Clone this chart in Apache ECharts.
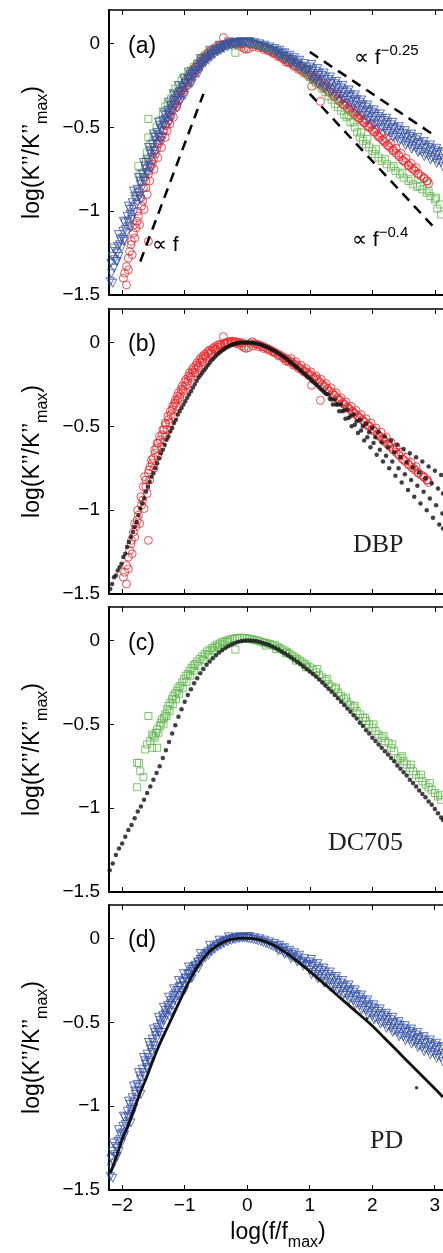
<!DOCTYPE html>
<html>
<head>
<meta charset="utf-8">
<script src="https://cdn.jsdelivr.net/npm/echarts@6/dist/echarts.min.js"></script>
<style>
  html, body { margin: 0; padding: 0; background: #fff; }
  #chart { width: 443px; height: 1253px; }
</style>
</head>
<body>
<div id="chart"></div>
<script>
// ---- axis ticks -------------------------------------------------------
const xTickValues = [-2, -1, 0, 1, 2, 3];
const yTickValues = [-1.5, -1, -0.5, 0];
const panelLetters = ['(a)', '(b)', '(c)', '(d)'];
const liquidNames = ['DBP', 'DC705', 'PD'];

// ---- DBP loss spectra (red circles), log(f/fmax), log(K''/K''max) ----
const dbpPoints = [
  [-1.93,-1.44],[-1.96,-1.37],[-1.93,-1.33],[-1.90,-1.35],[-1.98,-1.40],[-1.88,-1.24],[-1.86,-1.20],[-1.84,-1.26],
  [-1.82,-1.13],[-1.80,-1.16],[-1.78,-1.10],[-1.76,-1.06],[-1.74,-1.03],[-1.72,-1.08],[-1.69,-0.97],[-1.67,-0.94],
  [-1.65,-0.99],[-1.58,-1.18],[-1.64,-0.80],[-1.62,-0.86],[-1.60,-0.90],[-1.58,-0.78],[-1.56,-0.82],[-1.55,-0.74],
  [-1.52,-0.72],[-1.50,-0.69],[-1.49,-0.75],[-1.47,-0.66],[-1.45,-0.63],[-1.43,-0.68],[-1.42,-0.60],[-1.39,-0.58],
  [-1.37,-0.62],[-1.36,-0.55],[-1.33,-0.52],[-1.31,-0.56],[-1.30,-0.49],[-1.28,-0.52],[-1.26,-0.46],[-1.24,-0.48],
  [-1.22,-0.43],[-1.20,-0.40],[-1.18,-0.44],[-1.17,-0.37],[-1.15,-0.345],[-1.13,-0.38],[-1.12,-0.32],[-1.10,-0.30],
  [-1.08,-0.33],[-1.06,-0.28],[-1.04,-0.26],[-1.02,-0.29],[-1.00,-0.235],[-0.98,-0.22],[-0.96,-0.25],[-0.94,-0.20],
  [-0.92,-0.18],[-0.90,-0.21],[-0.88,-0.165],[-0.86,-0.15],[-0.84,-0.18],[-0.82,-0.135],[-0.80,-0.12],[-0.78,-0.15],
  [-0.76,-0.105],[-0.74,-0.09],[-0.72,-0.115],[-0.70,-0.08],[-0.68,-0.07],[-0.66,-0.09],[-0.63,-0.055],[-0.60,-0.045],
  [-0.58,-0.065],[-0.55,-0.035],[-0.52,-0.025],[-0.50,-0.04],[-0.47,-0.015],[-0.44,-0.01],[-0.42,-0.025],[-0.38,0.035],
  [-0.36,-0.003],[-0.33,0.0],[-0.30,0.004],[-0.27,0.006],[-0.24,0.008],[-0.21,0.006],[-0.18,0.004],[-0.15,0.002],
  [-0.12,0.0],[-0.08,-0.002],[-0.05,-0.03],[-0.02,-0.035],[0.02,-0.03],[0.05,-0.005],[0.08,0.005],[0.12,-0.006],
  [0.16,-0.01],[0.20,-0.016],[0.24,-0.022],[0.28,-0.028],[0.32,-0.035],[0.36,-0.042],[0.40,-0.05],[0.44,-0.058],
  [0.48,-0.066],[0.52,-0.075],[0.56,-0.083],[0.60,-0.092],[0.62,-0.11],[0.64,-0.10],[0.68,-0.11],[0.72,-0.12],
  [0.76,-0.13],[0.80,-0.14],[0.84,-0.15],[0.88,-0.16],[0.92,-0.17],[0.96,-0.18],[1.00,-0.19],[1.03,-0.255],
  [1.04,-0.20],[1.08,-0.21],[1.12,-0.22],[1.16,-0.235],[1.17,-0.345],[1.20,-0.25],[1.24,-0.26],[1.28,-0.275],
  [1.32,-0.29],[1.36,-0.30],[1.40,-0.315],[1.44,-0.33],[1.48,-0.345],[1.52,-0.36],[1.56,-0.37],[1.60,-0.385],
  [1.64,-0.40],[1.68,-0.41],[1.72,-0.425],[1.76,-0.435],[1.80,-0.45],[1.84,-0.46],[1.88,-0.475],[1.92,-0.49],
  [1.96,-0.50],[2.00,-0.515],[2.04,-0.53],[2.08,-0.545],[2.12,-0.56],[2.16,-0.575],[2.20,-0.59],[2.24,-0.605],
  [2.28,-0.62],[2.33,-0.64],[2.38,-0.655],[2.43,-0.675],[2.48,-0.695],[2.53,-0.71],[2.58,-0.73],[2.63,-0.745],
  [2.68,-0.76],[2.73,-0.775],[2.78,-0.79],[2.83,-0.805],[2.87,-0.82],[2.90,-0.835],
  [0.70,-0.095],[0.78,-0.115],[0.86,-0.135],[0.94,-0.155],[1.02,-0.175],[1.10,-0.20],[1.18,-0.22],[1.26,-0.245],
  [1.34,-0.27],[1.42,-0.30],[1.50,-0.33],[1.58,-0.355],[1.66,-0.38],[1.74,-0.405],[1.82,-0.43],[1.90,-0.455],
  [1.98,-0.48],[2.06,-0.51],[2.14,-0.535],[2.22,-0.565],[2.30,-0.595],[2.38,-0.625],[2.46,-0.655],[2.54,-0.685],
  [2.62,-0.715],[2.70,-0.74],
  [-1.90,-1.28],[-1.85,-1.18],[-1.80,-1.08],[-1.75,-1.00],[-1.70,-0.92],[-1.66,-0.86],[-1.62,-0.82],[-1.57,-0.76],
  [-1.53,-0.70],[-1.48,-0.64],[-1.44,-0.60],[-1.40,-0.56],[-1.35,-0.52],[-1.31,-0.48],[-1.27,-0.44],[-1.23,-0.41],
  [-1.19,-0.38],[-1.15,-0.36],[-1.11,-0.34],[-1.07,-0.31],[-1.03,-0.28],[-0.99,-0.26],[-0.95,-0.23],[-0.91,-0.20],
  [-0.87,-0.18],[-0.83,-0.16],[-0.79,-0.14],[-0.75,-0.12],[-0.71,-0.10],[-0.67,-0.08],[-0.62,-0.065],[-0.57,-0.05],
  [-0.52,-0.04],[-0.47,-0.03],[-0.42,-0.015],[-0.37,-0.01],[-0.32,-0.005],[-0.26,-0.002],[-0.20,-0.003],[-0.14,-0.01],
  [-0.09,-0.02],[0.10,-0.02],[0.18,-0.025],[0.26,-0.035],[0.34,-0.045],[0.42,-0.06],[0.50,-0.08],[0.58,-0.095],
  [0.66,-0.115],[0.74,-0.135],[0.82,-0.155],[0.90,-0.175],[0.98,-0.195],[1.06,-0.22],[1.14,-0.24],[1.22,-0.265],
  [1.30,-0.29],[1.38,-0.315],[1.46,-0.34],[1.54,-0.365],[1.62,-0.39],[1.70,-0.415],[1.78,-0.445],[1.86,-0.47],
  [1.94,-0.50],[2.02,-0.525],[2.10,-0.555],[2.18,-0.58],[2.26,-0.61],[2.34,-0.635],[2.42,-0.665],[2.50,-0.70],
  [2.58,-0.725],[2.66,-0.75],[2.74,-0.78],[2.82,-0.80],[2.88,-0.82]
];

// ---- DC705 spectra as overlaid in the comparison panel (green squares) --
const dc705Overlay = [
  [-1.76,-0.89],[-1.74,-0.73],[-1.72,-0.78],[-1.70,-0.82],[-1.66,-0.77],[-1.62,-0.70],[-1.60,-0.65],[-1.58,-0.56],
  [-1.58,-0.45],[-1.55,-0.60],[-1.50,-0.55],[-1.45,-0.50],[-1.40,-0.46],[-1.35,-0.42],[-1.31,-0.375],[-1.27,-0.36],
  [-1.22,-0.33],[-1.18,-0.30],[-1.15,-0.27],[-1.10,-0.25],[-1.05,-0.22],[-1.00,-0.20],[-0.95,-0.18],[-0.90,-0.16],
  [-0.85,-0.14],[-0.80,-0.12],[-0.75,-0.10],[-0.70,-0.085],[-0.65,-0.07],[-0.60,-0.055],[-0.55,-0.045],[-0.50,-0.035],
  [-0.45,-0.025],[-0.40,-0.015],[-0.35,-0.01],[-0.30,-0.005],[-0.25,0.0],[-0.19,-0.055],[-0.20,0.005],[-0.15,0.008],
  [-0.10,0.01],[-0.05,0.01],[0.0,0.008],[0.05,0.005],[0.10,0.0],[0.15,-0.005],[0.20,-0.01],[0.25,-0.015],
  [0.30,-0.02],[0.35,-0.028],[0.40,-0.035],[0.45,-0.045],[0.50,-0.055],[0.55,-0.065],[0.60,-0.077],[0.65,-0.09],
  [0.70,-0.10],[0.75,-0.115],[0.80,-0.13],[0.85,-0.145],[0.90,-0.165],[0.95,-0.18],[1.00,-0.20],[1.05,-0.215],
  [1.10,-0.235],[1.15,-0.25],[1.20,-0.27],[1.25,-0.29],[1.30,-0.315],[1.35,-0.335],[1.40,-0.36],[1.45,-0.38],
  [1.50,-0.40],[1.55,-0.425],[1.59,-0.44],[1.65,-0.47],[1.72,-0.50],[1.76,-0.53],[1.80,-0.56],[1.85,-0.58],
  [1.90,-0.60],[1.95,-0.62],[2.00,-0.64],[2.04,-0.66],[2.10,-0.68],[2.15,-0.70],[2.23,-0.72],[2.30,-0.74],
  [2.37,-0.76],[2.44,-0.78],[2.50,-0.80],[2.58,-0.82],[2.65,-0.84],[2.72,-0.855],[2.80,-0.87],[2.87,-0.89],
  [2.93,-0.91],[3.00,-0.93],[3.04,-0.985],[3.08,-0.96],[3.10,-1.02],
  [1.62,-0.43],[1.70,-0.47],[1.82,-0.53],[1.92,-0.57],[2.06,-0.63],[2.20,-0.69],[2.34,-0.73],[2.48,-0.77],
  [2.62,-0.81],[2.76,-0.85],[2.90,-0.88],[3.02,-0.92]
];

// ---- DC705 spectra (green squares) -----------------------------------
const dc705Points = [
  [-1.76,-0.875],[-1.76,-0.73],[-1.73,-0.73],[-1.71,-0.78],[-1.66,-0.815],[-1.58,-0.45],[-1.63,-0.65],[-1.60,-0.62],
  [-1.55,-0.60],[-1.52,-0.64],[-1.50,-0.57],[-1.52,-0.56],[-1.46,-0.55],[-1.44,-0.53],[-1.44,-0.64],[-1.40,-0.51],
  [-1.38,-0.49],[-1.36,-0.47],[-1.33,-0.46],[-1.31,-0.44],[-1.28,-0.41],[-1.26,-0.39],[-1.23,-0.37],[-1.20,-0.35],
  [-1.18,-0.33],[-1.15,-0.315],[-1.12,-0.30],[-1.10,-0.28],[-1.07,-0.27],[-1.04,-0.25],[-1.01,-0.23],[-0.98,-0.21],
  [-0.95,-0.20],[-0.92,-0.18],[-0.89,-0.165],[-0.86,-0.15],[-0.83,-0.14],[-0.80,-0.125],[-0.76,-0.11],[-0.72,-0.095],
  [-0.68,-0.08],[-0.64,-0.065],[-0.60,-0.055],[-0.56,-0.045],[-0.52,-0.035],[-0.48,-0.025],[-0.44,-0.018],[-0.40,-0.01],
  [-0.36,-0.005],[-0.32,0.0],[-0.28,0.005],[-0.24,0.01],[-0.19,-0.054],[-0.20,0.012],[-0.16,0.015],[-0.12,0.016],
  [-0.08,0.016],[-0.04,0.015],[0.0,0.013],[0.04,0.01],[0.08,0.007],[0.12,0.003],[0.16,0.0],[0.20,-0.005],
  [0.24,-0.01],[0.28,-0.013],[0.32,-0.017],[0.36,-0.02],[0.40,-0.025],[0.44,-0.03],[0.48,-0.036],[0.52,-0.045],
  [0.56,-0.053],[0.60,-0.06],[0.64,-0.07],[0.68,-0.08],[0.72,-0.09],[0.76,-0.10],[0.80,-0.11],[0.84,-0.12],
  [0.88,-0.13],[0.92,-0.14],[0.96,-0.15],[1.00,-0.16],[1.05,-0.175],[1.10,-0.19],[1.15,-0.205],[1.20,-0.22],
  [1.25,-0.24],[1.30,-0.26],[1.35,-0.275],[1.40,-0.29],[1.45,-0.31],[1.50,-0.33],[1.55,-0.35],[1.60,-0.365],
  [1.65,-0.385],[1.70,-0.40],[1.75,-0.42],[1.80,-0.44],[1.85,-0.46],[1.90,-0.48],[1.95,-0.50],[2.00,-0.52],
  [2.05,-0.54],[2.10,-0.56],[2.15,-0.58],[2.20,-0.60],[2.26,-0.61],[2.30,-0.64],[2.35,-0.66],[2.41,-0.71],
  [2.45,-0.70],[2.50,-0.72],[2.55,-0.74],[2.60,-0.76],[2.65,-0.78],[2.70,-0.80],[2.75,-0.82],[2.80,-0.84],
  [2.85,-0.86],[2.90,-0.875],[2.95,-0.89],[3.00,-0.91],[3.05,-0.93],[3.10,-0.95],
  [1.12,-0.17],[1.28,-0.23],[1.42,-0.28],[1.58,-0.34],[1.72,-0.39],[1.88,-0.46],[2.02,-0.50],[2.18,-0.57],
  [2.32,-0.62],[2.48,-0.69],[2.62,-0.74],[2.78,-0.80],[2.92,-0.85],[3.08,-0.92],
  [-1.48,-0.58],[-1.42,-0.55],[-1.34,-0.50],[-1.29,-0.45],[-1.24,-0.42],[-1.19,-0.38],[-1.14,-0.35],[-1.09,-0.32],
  [-1.03,-0.285],[-0.97,-0.245],[-0.91,-0.21],[-0.85,-0.18],[-0.78,-0.15],[-0.70,-0.115],[-0.62,-0.085],[-0.54,-0.06],
  [-0.46,-0.04],[-0.38,-0.025],[-0.30,-0.01],[0.30,-0.03],[0.46,-0.05],[0.62,-0.075],[0.78,-0.12],[0.94,-0.16]
];

// ---- PD spectra (blue down-triangles) --------------------------------
const pdPoints = [
  [-2.19,-1.42],[-2.17,-1.37],[-2.15,-1.43],[-2.18,-1.31],[-2.16,-1.27],[-2.13,-1.34],[-2.11,-1.24],[-2.09,-1.30],
  [-2.07,-1.21],[-2.05,-1.27],[-2.03,-1.17],[-2.01,-1.22],[-1.99,-1.12],[-1.97,-1.18],[-1.96,-1.07],[-1.93,-1.13],
  [-1.92,-1.03],[-1.89,-1.09],[-1.88,-0.99],[-1.85,-1.05],[-1.84,-0.95],[-1.81,-1.01],[-1.80,-0.91],[-1.77,-0.96],
  [-1.76,-0.87],[-1.73,-0.91],[-1.72,-0.82],[-1.69,-0.87],[-1.68,-0.78],[-1.65,-0.82],[-1.64,-0.73],[-1.61,-0.77],
  [-1.60,-0.69],[-1.57,-0.73],[-1.56,-0.64],[-1.53,-0.68],[-1.52,-0.60],[-1.49,-0.64],[-1.48,-0.56],[-1.45,-0.60],
  [-1.44,-0.53],[-1.41,-0.56],[-1.40,-0.49],[-1.37,-0.52],[-1.35,-0.46],[-1.33,-0.49],[-1.31,-0.43],[-1.29,-0.46],
  [-1.27,-0.40],[-1.25,-0.43],[-1.22,-0.37],[-1.20,-0.40],[-1.18,-0.34],[-1.16,-0.37],[-1.13,-0.31],[-1.11,-0.34],
  [-1.09,-0.29],[-1.06,-0.31],[-1.04,-0.26],[-1.02,-0.28],[-0.99,-0.235],[-0.97,-0.255],[-0.94,-0.21],[-0.92,-0.23],
  [-0.89,-0.185],[-0.87,-0.20],[-0.84,-0.165],[-0.82,-0.18],[-0.79,-0.145],[-0.77,-0.155],[-0.74,-0.125],[-0.72,-0.135],
  [-0.69,-0.105],[-0.67,-0.115],[-0.64,-0.09],[-0.62,-0.10],[-0.59,-0.075],[-0.57,-0.08],[-0.54,-0.06],[-0.52,-0.065],
  [-0.49,-0.045],[-0.47,-0.05],[-0.44,-0.035],[-0.42,-0.04],[-0.39,-0.025],[-0.37,-0.03],[-0.34,-0.015],[-0.31,-0.02],
  [-0.28,-0.008],[-0.25,-0.012],[-0.22,-0.002],[-0.19,-0.006],[-0.16,0.004],[-0.13,0.0],[-0.10,0.006],[-0.07,0.002],
  [-0.04,0.006],[-0.01,0.002],
  [-2.14,-1.22],[-2.06,-1.14],[-1.98,-1.06],[-1.90,-0.97],[-1.82,-0.88],[-1.74,-0.80],[-1.66,-0.71],[-1.58,-0.62],
  [-1.50,-0.54],[-1.42,-0.47],[-1.34,-0.41],[-1.26,-0.35],[-1.18,-0.30],[-1.10,-0.25],[-1.02,-0.21],[-0.94,-0.17],
  [-1.86,-1.10],[-1.70,-0.93],[-1.54,-0.74],[-1.38,-0.58],[-1.22,-0.44],[-1.06,-0.34],[-0.90,-0.24],
  [-2.12,-1.29],[-2.08,-1.25],[-2.04,-1.20],[-2.00,-1.16],[-1.95,-1.11],[-1.91,-1.06],[-1.87,-1.02],[-1.83,-0.98],
  [-1.79,-0.93],[-1.75,-0.89],[-1.71,-0.84],[-1.67,-0.80],[-1.63,-0.75],[-1.59,-0.71],[-1.55,-0.66],[-1.51,-0.62],
  [-1.47,-0.58],[-1.43,-0.55],[-1.39,-0.51],[-1.35,-0.48],[-1.31,-0.45],[-1.27,-0.42],[-1.23,-0.39],[-1.19,-0.36],
  [-1.15,-0.33],[-1.11,-0.31],[-1.07,-0.285],[-1.03,-0.26],[-0.99,-0.24],[-0.95,-0.215],[-0.91,-0.195],[-0.87,-0.175],
  [-0.83,-0.16],[-0.79,-0.14],[-0.75,-0.125],[-0.71,-0.11],[-0.67,-0.095],[-0.63,-0.08],[-0.58,-0.065],[-0.53,-0.05],
  [-0.48,-0.038],[-0.43,-0.028],[-0.38,-0.018],[-0.33,-0.01],[-0.28,-0.004],[-0.23,0.0],[-0.18,0.008],[-0.12,0.01],
  [-0.06,0.01],[0.0,0.008],[-0.30,0.01],[-0.45,-0.01],[-0.60,-0.04],[-0.75,-0.09],
  [-2.08,-1.30],[-1.96,-1.17],[-1.84,-1.04],[-1.72,-0.91],[-1.60,-0.78],[-1.48,-0.66],[-1.36,-0.56],[-1.24,-0.47],
  [-1.12,-0.385],[-1.00,-0.31],[-0.88,-0.235],[-0.78,-0.18],
  [0.02,0.0],[0.06,-0.003],[0.10,-0.006],[0.14,-0.01],[0.18,-0.014],[0.22,-0.018],[0.26,-0.024],[0.30,-0.03],
  [0.34,-0.035],[0.38,-0.042],[0.42,-0.048],[0.46,-0.055],[0.50,-0.062],[0.54,-0.07],[0.58,-0.078],[0.62,-0.086],
  [0.66,-0.095],[0.70,-0.104],[0.74,-0.113],[0.78,-0.122],[0.82,-0.13],[0.86,-0.14],[0.90,-0.15],[0.94,-0.16],
  [0.04,0.012],[0.12,0.005],[0.20,-0.002],[0.28,-0.01],[0.36,-0.02],[0.44,-0.03],[0.52,-0.04],[0.60,-0.055],
  [0.68,-0.07],[0.76,-0.085],[0.84,-0.10],[0.92,-0.12],
  [1.00,-0.14],[1.00,-0.19],[1.05,-0.152],[1.05,-0.203],[1.10,-0.165],[1.10,-0.215],[1.15,-0.178],[1.15,-0.228],
  [1.20,-0.19],[1.20,-0.24],[1.25,-0.20],[1.25,-0.255],[1.30,-0.215],[1.30,-0.265],[1.35,-0.228],[1.35,-0.278],
  [1.40,-0.24],[1.40,-0.29],[1.45,-0.25],[1.45,-0.305],[1.50,-0.265],[1.50,-0.315],[1.55,-0.278],[1.55,-0.33],
  [1.60,-0.29],[1.60,-0.34],[1.65,-0.305],[1.65,-0.355],[1.70,-0.32],[1.70,-0.37],[1.75,-0.335],[1.75,-0.385],
  [1.80,-0.35],[1.80,-0.40],[1.85,-0.365],[1.85,-0.415],[1.90,-0.38],[1.90,-0.43],[1.95,-0.395],[1.95,-0.445],
  [2.00,-0.41],[2.00,-0.46],[2.05,-0.42],[2.05,-0.475],[2.10,-0.435],[2.10,-0.485],[2.15,-0.448],[2.15,-0.50],
  [2.20,-0.46],[2.20,-0.51],[2.25,-0.47],[2.25,-0.525],[2.30,-0.485],[2.30,-0.535],[2.35,-0.50],[2.35,-0.55],
  [2.40,-0.51],[2.40,-0.56],[2.45,-0.52],[2.45,-0.575],[2.50,-0.535],[2.50,-0.585],[2.55,-0.545],[2.55,-0.595],
  [2.60,-0.555],[2.60,-0.605],[2.65,-0.565],[2.65,-0.615],[2.70,-0.575],[2.70,-0.625],[2.75,-0.59],[2.75,-0.64],
  [2.80,-0.60],[2.80,-0.65],[2.85,-0.61],[2.85,-0.66],[2.90,-0.62],[2.90,-0.67],[2.95,-0.63],[2.95,-0.68],
  [3.00,-0.64],[3.00,-0.69],[3.05,-0.65],[3.05,-0.70],[3.10,-0.66],[3.10,-0.71],[3.15,-0.67],[3.15,-0.72],
  [1.03,-0.165],[1.13,-0.19],[1.23,-0.215],[1.33,-0.24],[1.43,-0.265],[1.53,-0.29],[1.63,-0.315],[1.73,-0.345],
  [1.83,-0.375],[1.93,-0.405],[2.03,-0.435],[2.13,-0.46],[2.23,-0.485],[2.33,-0.51],[2.43,-0.535],[2.53,-0.56],
  [2.63,-0.58],[2.73,-0.60],[2.83,-0.625],[2.93,-0.645],[3.03,-0.665],[3.13,-0.685],
  [1.03,-0.125],[1.03,-0.215],[1.13,-0.15],[1.13,-0.24],[1.23,-0.176],[1.23,-0.266],[1.33,-0.20],[1.33,-0.29],
  [1.43,-0.226],[1.43,-0.316],[1.53,-0.25],[1.53,-0.34],[1.63,-0.277],[1.63,-0.367],[1.73,-0.307],[1.73,-0.397],
  [1.83,-0.337],[1.83,-0.427],[1.93,-0.367],[1.93,-0.457],[2.03,-0.396],[2.03,-0.486],[2.13,-0.42],[2.13,-0.51],
  [2.23,-0.446],[2.23,-0.536],[2.33,-0.47],[2.33,-0.56],[2.43,-0.496],[2.43,-0.586],[2.53,-0.52],[2.53,-0.61],
  [2.63,-0.54],[2.63,-0.63],[2.73,-0.56],[2.73,-0.65],[2.83,-0.585],[2.83,-0.675],[2.93,-0.605],[2.93,-0.695],
  [3.03,-0.625],[3.03,-0.715],[3.13,-0.645],[3.13,-0.735],
  [0.48,-0.045],[0.56,-0.06],[0.64,-0.08],[0.72,-0.095],[0.80,-0.11],[0.88,-0.135],[0.96,-0.155],[0.50,-0.075],
  [0.60,-0.095],[0.70,-0.12],[0.80,-0.14],[0.90,-0.165]
];

// ---- DBP master-curve points (black dots, four high-f branches) --------
const dbpMaster = [
  [-2.19,-1.47],[-2.16,-1.44],[-2.13,-1.40],[-2.10,-1.39],[-2.07,-1.36],[-2.04,-1.34],[-2.01,-1.32],[-1.98,-1.28],
  [-1.95,-1.26],[-1.92,-1.22],[-1.89,-1.19],[-1.86,-1.16],[-1.83,-1.13],[-1.80,-1.10],[-1.77,-1.07],[-1.74,-1.03],
  [-1.71,-0.99],[-1.68,-0.96],[-1.65,-0.93],[-1.62,-0.89],[-1.59,-0.86],[-1.56,-0.83],[-1.53,-0.80],[-1.50,-0.78],
  [-1.47,-0.75],[-1.44,-0.72],[-1.41,-0.69],[-1.38,-0.66],[-1.35,-0.64],[-1.32,-0.61],[-1.29,-0.58],[-1.26,-0.56],
  [-1.23,-0.53],[-1.20,-0.51],[-1.17,-0.48],[-1.14,-0.46],[-1.11,-0.43],[-1.08,-0.41],[-1.05,-0.39],[-1.02,-0.37],
  [-0.99,-0.35],[-0.96,-0.33],[-0.93,-0.31],[-0.90,-0.29],[-0.87,-0.27],[-0.84,-0.25],[-0.81,-0.23],[-0.78,-0.21],
  [-0.75,-0.195],[-0.72,-0.18],[-0.69,-0.165],[-0.66,-0.15],[-0.63,-0.135],[-0.60,-0.12],[-0.57,-0.105],[-0.54,-0.095],
  [-0.51,-0.083],[-0.48,-0.072],[-0.45,-0.062],[-0.42,-0.053],[-0.39,-0.045],[-0.36,-0.037],[-0.33,-0.03],[-0.30,-0.024],
  [-0.27,-0.018],[-0.24,-0.013],[-0.21,-0.009],[-0.18,-0.006],[-0.15,-0.003],[-0.12,-0.001],[-0.09,0.0],[-0.06,0.0],
  [-0.03,0.0],[0.0,0.0],[0.03,0.0],[0.06,-0.001],[0.09,-0.002],[0.12,-0.004],[0.15,-0.006],[0.18,-0.009],
  [0.21,-0.012],[0.24,-0.016],[0.27,-0.02],[0.30,-0.025],[0.33,-0.03],[0.36,-0.035],[0.39,-0.041],[0.42,-0.047],
  [0.45,-0.053],[0.48,-0.06],[0.51,-0.067],[0.54,-0.074],[0.57,-0.082],[0.60,-0.09],[0.63,-0.098],[0.66,-0.107],
  [0.69,-0.116],[0.72,-0.125],[0.75,-0.134],[0.78,-0.143],[0.81,-0.152],[0.84,-0.162],[0.87,-0.172],[0.90,-0.182],
  [0.93,-0.192],[0.96,-0.202],[0.99,-0.212],[1.02,-0.222],[1.05,-0.232],[1.08,-0.243],[1.11,-0.253],[1.14,-0.264],
  [1.17,-0.275],[1.20,-0.285],[1.23,-0.296],[1.26,-0.307],
  [1.30,-0.31],[1.40,-0.34],[1.50,-0.37],[1.60,-0.40],[1.70,-0.43],[1.80,-0.46],[1.90,-0.485],[2.00,-0.51],
  [2.10,-0.535],[2.20,-0.56],[2.30,-0.585],[2.40,-0.61],[2.50,-0.635],[2.60,-0.66],[2.70,-0.685],[2.80,-0.71],
  [2.90,-0.74],[3.00,-0.765],[3.10,-0.79],
  [1.35,-0.34],[1.45,-0.37],[1.55,-0.405],[1.65,-0.44],[1.75,-0.47],[1.85,-0.50],[1.95,-0.535],[2.05,-0.565],
  [2.15,-0.595],[2.25,-0.625],[2.35,-0.655],[2.45,-0.685],[2.55,-0.715],[2.65,-0.745],[2.75,-0.775],[2.85,-0.81],
  [2.95,-0.84],[3.05,-0.87],[3.13,-0.90],
  [1.32,-0.335],[1.42,-0.37],[1.52,-0.41],[1.62,-0.45],[1.72,-0.49],[1.82,-0.525],[1.92,-0.565],[2.02,-0.60],
  [2.12,-0.64],[2.22,-0.675],[2.32,-0.71],[2.42,-0.75],[2.52,-0.785],[2.62,-0.82],[2.72,-0.855],[2.82,-0.89],
  [2.92,-0.93],[3.02,-0.97],[3.12,-1.02],
  [1.37,-0.37],[1.47,-0.41],[1.57,-0.455],[1.67,-0.50],[1.77,-0.54],[1.87,-0.585],[1.97,-0.625],[2.07,-0.67],
  [2.17,-0.71],[2.27,-0.75],[2.37,-0.795],[2.47,-0.835],[2.57,-0.88],[2.67,-0.92],[2.77,-0.96],[2.87,-1.00],
  [2.97,-1.045],[3.07,-1.085],[3.13,-1.11]
];

// ---- DC705 master-curve points (black dots) ----------------------------
const dc705Master = [
  [-2.20,-1.37],[-2.15,-1.33],[-2.10,-1.28],[-2.05,-1.24],[-2.00,-1.21],[-1.95,-1.17],[-1.90,-1.13],[-1.85,-1.10],
  [-1.80,-1.06],[-1.75,-1.02],[-1.70,-0.99],[-1.65,-0.95],[-1.60,-0.91],[-1.55,-0.87],[-1.50,-0.83],[-1.45,-0.79],
  [-1.40,-0.75],[-1.35,-0.70],[-1.30,-0.655],[-1.25,-0.605],[-1.20,-0.555],[-1.15,-0.505],[-1.10,-0.455],[-1.05,-0.41],
  [-1.00,-0.365],[-0.95,-0.325],[-0.90,-0.29],[-0.85,-0.255],[-0.80,-0.225],[-0.75,-0.195],[-0.70,-0.17],[-0.65,-0.145],
  [-0.60,-0.125],[-0.55,-0.105],[-0.50,-0.088],[-0.45,-0.072],[-0.40,-0.058],[-0.35,-0.045],[-0.30,-0.034],[-0.25,-0.024],
  [-0.20,-0.016],[-0.15,-0.009],[-0.10,-0.004],[-0.05,-0.001],[0.0,0.0],[0.05,0.0],[0.10,-0.002],[0.15,-0.005],
  [0.20,-0.009],[0.25,-0.014],[0.30,-0.02],[0.35,-0.027],[0.40,-0.035],[0.45,-0.044],[0.50,-0.054],[0.55,-0.065],
  [0.60,-0.076],[0.65,-0.088],[0.70,-0.10],[0.75,-0.113],[0.80,-0.126],[0.85,-0.14],[0.90,-0.155],[0.95,-0.17],
  [1.00,-0.185],[1.05,-0.20],[1.10,-0.215],[1.15,-0.232],[1.20,-0.25],[1.25,-0.268],[1.30,-0.287],[1.35,-0.306],
  [1.40,-0.325],[1.45,-0.345],[1.50,-0.365],[1.55,-0.385],[1.60,-0.405],[1.65,-0.425],[1.70,-0.445],[1.75,-0.465],
  [1.80,-0.49],[1.85,-0.51],[1.90,-0.535],[1.95,-0.555],[2.00,-0.58],[2.05,-0.60],[2.10,-0.62],[2.15,-0.64],
  [2.20,-0.66],[2.25,-0.68],[2.30,-0.70],[2.35,-0.72],[2.40,-0.745],[2.45,-0.765],[2.50,-0.785],[2.55,-0.805],
  [2.60,-0.83],[2.65,-0.85],[2.70,-0.87],[2.75,-0.895],[2.80,-0.915],[2.85,-0.935],[2.90,-0.96],[2.95,-0.98],
  [3.00,-1.005],[3.05,-1.03],[3.10,-1.055],[3.13,-1.07]
];

// ---- PD master curve (black) and two stray points -----------------------
const pdMaster = [
  [-2.19,-1.40],[-2.10,-1.31],[-2.00,-1.20],[-1.90,-1.11],[-1.80,-1.01],[-1.70,-0.91],[-1.60,-0.82],[-1.50,-0.72],
  [-1.40,-0.63],[-1.30,-0.55],[-1.20,-0.47],[-1.10,-0.39],[-1.00,-0.31],[-0.90,-0.235],[-0.80,-0.17],[-0.70,-0.118],
  [-0.60,-0.076],[-0.50,-0.047],[-0.40,-0.025],[-0.30,-0.01],[-0.20,-0.002],[-0.10,0.002],[0.0,0.003],[0.10,0.0],
  [0.20,-0.008],[0.30,-0.02],[0.40,-0.036],[0.50,-0.056],[0.60,-0.08],[0.70,-0.106],[0.80,-0.135],[0.90,-0.165],
  [1.00,-0.195],[1.20,-0.26],[1.40,-0.325],[1.60,-0.39],[1.80,-0.455],[2.00,-0.52],[2.20,-0.595],[2.40,-0.67],
  [2.60,-0.745],[2.80,-0.82],[3.00,-0.895],[3.13,-0.945]
];
const pdStray = [[1.91,-0.48],[2.71,-0.89]];

// ---- power-law guide lines for panel (a) ------------------------------
const guideSlope1 = [[-1.71,-1.30],[-0.70,-0.30]];
const guideSlope025 = [[1.0,-0.05],[3.0,-0.55]];
const guideSlope04 = [[1.0,-0.30],[2.97,-1.09]];

// ---- colours --------------------------------------------------------------
const RED = '#ec2227';
const GREEN = '#5cb548';
const BLUE = '#3653a8';
const BLACK = '#111111';
const SANS = '"Liberation Sans", Arial, Helvetica, sans-serif';
const SERIF = '"Liberation Serif", "Times New Roman", serif';

// ---- layout -------------------------------------------------------------
const gridTops = [10, 309, 607, 905];
const gridHeight = 285;
const gridLeft = 109;

const chart = echarts.init(document.getElementById('chart'), null, { renderer: 'canvas' });

const grids = [], xAxes = [], yAxes = [];
gridTops.forEach((top, i) => {
  grids.push({ left: gridLeft, right: 0, top: top, height: gridHeight, containLabel: false });
  const last = i === gridTops.length - 1;
  xAxes.push({
    type: 'value', gridIndex: i, position: 'bottom', min: -2.21, max: 3.13,
    axisLine: { show: true, onZero: false, lineStyle: { color: '#000', width: 2 } },
    axisTick: { show: true, inside: true, length: 5, customValues: xTickValues, lineStyle: { color: '#000', width: 1 } },
    axisLabel: {
      show: last, customValues: xTickValues, margin: 6, color: '#000', fontSize: 19, fontFamily: SANS,
      formatter: v => String(v).replace('-', '\u2212')
    },
    splitLine: { show: false }
  });
  xAxes.push({
    type: 'value', gridIndex: i, position: 'top', min: -2.21, max: 3.13,
    axisLine: { show: true, onZero: false, lineStyle: { color: '#000', width: 1.5 } },
    axisTick: { show: true, inside: true, length: 5, customValues: xTickValues, lineStyle: { color: '#000', width: 1 } },
    axisLabel: { show: false },
    splitLine: { show: false }
  });
  yAxes.push({
    type: 'value', gridIndex: i, min: -1.5, max: 0.2,
    axisLine: { show: true, onZero: false, lineStyle: { color: '#000', width: 2 } },
    axisTick: { show: true, inside: true, length: 5, customValues: yTickValues, lineStyle: { color: '#000', width: 1 } },
    axisLabel: {
      customValues: yTickValues, margin: 9, color: '#000', fontSize: 19, fontFamily: SANS,
      formatter: v => String(v).replace('-', '\u2212')
    },
    splitLine: { show: false }
  });
});

function scatter(panel, data, symbol, color, size, hollow, rotate) {
  return {
    type: 'scatter', xAxisIndex: panel * 2, yAxisIndex: panel, data: data,
    symbol: symbol, symbolSize: size, symbolRotate: rotate || 0,
    itemStyle: hollow ? { color: 'rgba(0,0,0,0)', borderColor: color, borderWidth: 1 } : { color: color },
    silent: true, animation: false, large: false
  };
}
function guide(data) {
  return {
    type: 'line', xAxisIndex: 0, yAxisIndex: 0, data: data, showSymbol: false, symbol: 'none',
    lineStyle: { color: '#000', width: 2.5, type: [10, 7] }, silent: true, animation: false, z: 5
  };
}

const series = [
  // (a) all three liquids and power-law guides
  scatter(0, dbpPoints, 'circle', RED, 8, true),
  scatter(0, dc705Overlay, 'rect', GREEN, 7, true),
  scatter(0, pdPoints, 'triangle', BLUE, 8, true, 180),
  guide(guideSlope1), guide(guideSlope025), guide(guideSlope04),
  // (b) DBP
  scatter(1, dbpPoints, 'circle', RED, 8, true),
  scatter(1, dbpMaster, 'circle', BLACK, 4.5, false),
  // (c) DC705
  scatter(2, dc705Points, 'rect', GREEN, 7, true),
  scatter(2, dc705Master, 'circle', BLACK, 4.5, false),
  // (d) PD
  scatter(3, pdPoints, 'triangle', BLUE, 8, true, 180),
  {
    type: 'line', xAxisIndex: 6, yAxisIndex: 3, data: pdMaster, smooth: 0.4, showSymbol: false, symbol: 'none',
    lineStyle: { color: BLACK, width: 2.8 }, silent: true, animation: false, z: 4
  },
  scatter(3, pdStray, 'circle', BLACK, 3.5, false)
];

// ---- text: axis titles, panel letters, liquid names, guide labels -------
const nameRich = {
  m: { fontSize: 23, fontFamily: SANS, color: '#000', lineHeight: 30, verticalAlign: 'top' },
  s: { fontSize: 16, fontFamily: SANS, color: '#000', lineHeight: 12, verticalAlign: 'bottom' }
};
const supRich = {
  m: { fontSize: 21, fontFamily: SANS, color: '#000', lineHeight: 30 },
  p: { fontSize: 15, fontFamily: SANS, color: '#000', lineHeight: 14, verticalAlign: 'top' }
};
const graphics = [];
const zeroRows = [44, 342, 641, 938];
zeroRows.forEach((y0, i) => {
  graphics.push({
    type: 'text', x: 36, y: gridTops[i] + gridHeight / 2, rotation: Math.PI / 2, silent: true,
    style: { text: '{m|log(K\u2019\u2019/K\u2019\u2019}{s|max}{m|)}', rich: nameRich, align: 'center', verticalAlign: 'middle' }
  });
  graphics.push({
    type: 'text', x: 128, y: y0 + 3, silent: true,
    style: { text: panelLetters[i], fontSize: 23, fontFamily: SANS, fill: '#000', align: 'left', verticalAlign: 'middle' }
  });
});
graphics.push({ type: 'text', x: 353, y: 545, silent: true,
  style: { text: liquidNames[0], fontSize: 26, fontFamily: SERIF, fill: '#222', align: 'left', verticalAlign: 'middle' } });
graphics.push({ type: 'text', x: 328, y: 843, silent: true,
  style: { text: liquidNames[1], fontSize: 26, fontFamily: SERIF, fill: '#222', align: 'left', verticalAlign: 'middle' } });
graphics.push({ type: 'text', x: 370, y: 1141, silent: true,
  style: { text: liquidNames[2], fontSize: 26, fontFamily: SERIF, fill: '#222', align: 'left', verticalAlign: 'middle' } });
graphics.push({ type: 'text', x: 278, y: 1236, silent: true,
  style: { text: '{m|log(f/f}{s|max}{m|)}', rich: nameRich, align: 'center', verticalAlign: 'middle' } });
graphics.push({ type: 'text', x: 152, y: 245, silent: true,
  style: { text: '{m|\u221D f}', rich: supRich, align: 'left', verticalAlign: 'middle' } });
graphics.push({ type: 'text', x: 354, y: 58, silent: true,
  style: { text: '{m|\u221D f}{p|\u22120.25}', rich: supRich, align: 'left', verticalAlign: 'middle' } });
graphics.push({ type: 'text', x: 352, y: 240, silent: true,
  style: { text: '{m|\u221D f}{p|\u22120.4}', rich: supRich, align: 'left', verticalAlign: 'middle' } });

chart.setOption({
  animation: false,
  backgroundColor: '#fff',
  grid: grids,
  xAxis: xAxes,
  yAxis: yAxes,
  series: series,
  graphic: graphics
});
</script>
</body>
</html>
